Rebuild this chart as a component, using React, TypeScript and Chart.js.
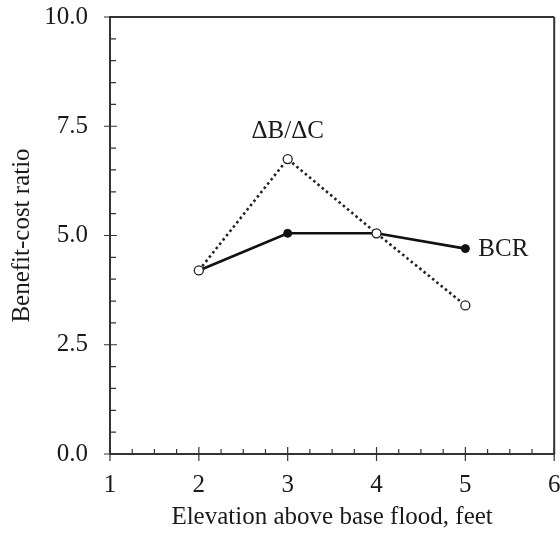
import React, { useEffect, useRef } from "react";
import { Chart, registerables } from "chart.js";

Chart.register(...registerables);

const elevations = [2, 3, 4, 5];
const bcrValues = [4.2, 5.05, 5.05, 4.7];
const dbdcValues = [4.2, 6.75, 5.05, 3.4];
const xMin = 1;
const xMax = 6;
const yMin = 0;
const yMax = 10;
const yStep = 2.5;
const xTitle = "Elevation above base flood, feet";
const yTitle = "Benefit-cost ratio";
const bcrLabel = "BCR";
const dbdcLabel = "\u0394B/\u0394C";

const FONT = "'Liberation Serif', 'Times New Roman', serif";
const TEXT = "#1a1a1a";
const AXIS = "#333333";

const decorPlugin = {
  id: "decor",
  afterDraw(chart: any) {
    const ctx = chart.ctx;
    const { left, right, top, bottom } = chart.chartArea;
    const xs = chart.scales.x;
    const ys = chart.scales.y;
    ctx.save();
    ctx.strokeStyle = AXIS;
    ctx.lineWidth = 2;
    ctx.beginPath();
    ctx.moveTo(left, top);
    ctx.lineTo(right, top);
    ctx.moveTo(right, top);
    ctx.lineTo(right, bottom);
    ctx.stroke();

    ctx.lineWidth = 1.2;
    ctx.beginPath();
    for (let v = xMin; v <= xMax + 1e-9; v += 0.25) {
      const px = xs.getPixelForValue(v);
      const major = Math.abs(v - Math.round(v)) < 1e-9;
      if (major) {
        ctx.moveTo(px, bottom + 7);
        ctx.lineTo(px, bottom - 7);
      } else {
        ctx.moveTo(px, bottom);
        ctx.lineTo(px, bottom - 5);
      }
    }
    for (let v = yMin; v <= yMax + 1e-9; v += 0.5) {
      const py = ys.getPixelForValue(v);
      const major = Math.abs(v / yStep - Math.round(v / yStep)) < 1e-9;
      if (major) {
        ctx.moveTo(left - 6, py);
        ctx.lineTo(left + 7, py);
      } else {
        ctx.moveTo(left, py);
        ctx.lineTo(left + 6, py);
      }
    }
    ctx.stroke();

    ctx.fillStyle = TEXT;
    ctx.font = `25px ${FONT}`;
    ctx.textAlign = "center";
    ctx.textBaseline = "middle";
    const pk = 1;
    ctx.fillText(
      dbdcLabel,
      xs.getPixelForValue(elevations[pk]),
      ys.getPixelForValue(dbdcValues[pk]) - 28
    );
    ctx.textAlign = "left";
    const last = elevations.length - 1;
    ctx.fillText(
      bcrLabel,
      xs.getPixelForValue(elevations[last]) + 13,
      ys.getPixelForValue(bcrValues[last]) + 1
    );

    ctx.textAlign = "center";
    ctx.fillText(xTitle, (left + right) / 2, 517);
    ctx.save();
    ctx.translate(22, (top + bottom) / 2);
    ctx.rotate(-Math.PI / 2);
    ctx.fillText(yTitle, 0, 0);
    ctx.restore();
    ctx.restore();
  },
};

export default function App() {
  const ref = useRef<HTMLCanvasElement>(null);
  useEffect(() => {
    document.body.style.margin = "0";
    const canvas = ref.current;
    if (!canvas) return;
    const toPts = (vals: number[]) => elevations.map((x, i) => ({ x, y: vals[i] }));
    const chart = new Chart(canvas, {
      type: "line",
      data: {
        datasets: [
          {
            label: bcrLabel,
            data: toPts(bcrValues),
            borderColor: "#111",
            borderWidth: 2.6,
            pointRadius: 4,
            pointBackgroundColor: "#111",
            pointBorderColor: "#111",
            pointBorderWidth: 1,
            tension: 0,
            order: 2,
          },
          {
            label: dbdcLabel,
            data: toPts(dbdcValues),
            borderColor: "#222",
            borderWidth: 2.6,
            borderDash: [2.5, 3],
            pointRadius: 4.5,
            pointBackgroundColor: "#fff",
            pointBorderColor: "#222",
            pointBorderWidth: 1.3,
            tension: 0,
            order: 1,
          },
        ],
      },
      plugins: [decorPlugin],
      options: {
        responsive: false,
        animation: false,
        layout: { padding: { top: 17, right: 3, left: 0, bottom: 0 } },
        plugins: {
          legend: { display: false },
          tooltip: { enabled: false },
        },
        scales: {
          x: {
            type: "linear",
            min: xMin,
            max: xMax,
            ticks: {
              stepSize: 1,
              color: TEXT,
              font: { family: FONT, size: 25 },
              padding: 8,
              maxRotation: 0,
            },
            grid: { display: false },
            border: { display: true, color: AXIS, width: 2 },
            afterFit(scale: any) {
              scale.height = 88;
              scale.paddingLeft = 0;
              scale.paddingRight = 0;
            },
          },
          y: {
            type: "linear",
            min: yMin,
            max: yMax,
            ticks: {
              stepSize: yStep,
              color: TEXT,
              font: { family: FONT, size: 25 },
              padding: 14,
              callback: (v: any) => Number(v).toFixed(1),
            },
            grid: { display: false },
            border: { display: true, color: AXIS, width: 2 },
            afterFit(scale: any) {
              scale.width = 110;
              scale.paddingTop = 0;
              scale.paddingBottom = 0;
            },
          },
        },
      },
    });
    return () => chart.destroy();
  }, []);
  return (
    <div style={{ width: 560, height: 542, background: "#fff" }}>
      <canvas ref={ref} width={560} height={542} style={{ display: "block" }} />
    </div>
  );
}
